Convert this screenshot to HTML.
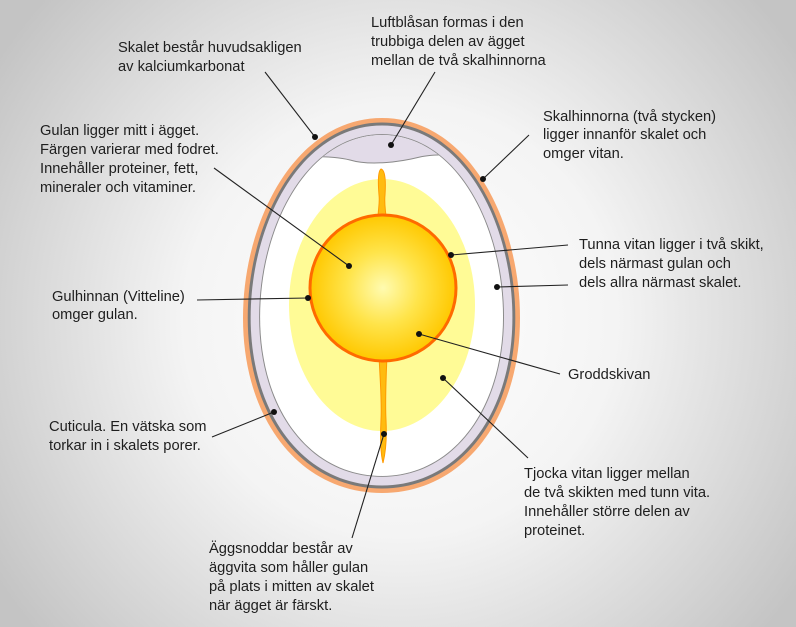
<!DOCTYPE html>
<html><head><meta charset="utf-8"><style>
html,body{margin:0;padding:0;width:796px;height:627px;overflow:hidden}
svg{display:block}
text{font-family:"Liberation Sans",sans-serif;font-size:14.7px;fill:#1e1e1e}
</style></head><body>
<svg width="796" height="627" viewBox="0 0 796 627" xmlns="http://www.w3.org/2000/svg">
<defs>
<radialGradient id="bg" cx="400" cy="320" r="480" gradientUnits="userSpaceOnUse">
<stop offset="0" stop-color="#ffffff"/><stop offset="0.45" stop-color="#f4f4f4"/><stop offset="1" stop-color="#c4c4c4"/>
</radialGradient>
<radialGradient id="yolk" cx="0.5" cy="0.5" r="0.5">
<stop offset="0" stop-color="#fffbb0"/><stop offset="0.5" stop-color="#ffe44a"/><stop offset="1" stop-color="#ffc800"/>
</radialGradient>
<path id="egg" d="M382,118 C468,118 520,220 520,318 C520,420 462,493 382,493 C300,493 243,420 243,318 C243,220 296,118 382,118 Z"/>
<clipPath id="inner"><use href="#egg" transform="translate(382 305.5) scale(0.877 0.909) translate(-382 -305.5)"/></clipPath>
</defs>
<rect width="796" height="627" fill="url(#bg)"/>
<use href="#egg" fill="#f7a870"/>
<use href="#egg" fill="#7a7a7a" transform="translate(382 305.5) scale(0.966 0.976) translate(-382 -305.5)"/>
<use href="#egg" fill="#e2dbe8" transform="translate(382 305.5) scale(0.945 0.96) translate(-382 -305.5)"/>
<use href="#egg" fill="#8a8a8a" transform="translate(382 305.5) scale(0.884 0.914) translate(-382 -305.5)"/>
<use href="#egg" fill="#ffffff" transform="translate(382 305.5) scale(0.877 0.909) translate(-382 -305.5)"/>
<g clip-path="url(#inner)">
<path d="M230,100 L540,100 L540,158 C480,157 440,152 420,157 C400,162 370,166 350,160 C330,155 300,156 230,158 Z" fill="#e2dbe8" stroke="#8a8a8a" stroke-width="1"/>
</g>
<ellipse cx="382" cy="305" rx="93" ry="126" fill="#fffb96"/>
<path d="M381,169 C385,170 386,180 385,195 C384,205 386,212 386,218 L378,218 C378,210 380,203 379,195 C378,183 378,171 381,169 Z" fill="#ffbb10" stroke="#ff9a00" stroke-width="1"/>
<path d="M379,355 L387,355 C386,380 385,400 386,420 C387,440 385,455 383,463 C381,455 380,440 381,420 C382,400 380,380 379,355 Z" fill="#ffbb10" stroke="#ff9a00" stroke-width="1"/>
<circle cx="383" cy="288" r="73" fill="url(#yolk)" stroke="#ff6a00" stroke-width="3"/>
<g stroke="#222" stroke-width="1.1">
<line x1="265" y1="72" x2="315" y2="137"/>
<line x1="435" y1="72" x2="391" y2="145"/>
<line x1="529" y1="135" x2="483" y2="179"/>
<line x1="214" y1="168" x2="349" y2="266"/>
<line x1="197" y1="300" x2="308" y2="298"/>
<line x1="212" y1="437" x2="274" y2="412"/>
<line x1="568" y1="245" x2="451" y2="255"/>
<line x1="568" y1="285" x2="497" y2="287"/>
<line x1="560" y1="374" x2="419" y2="334"/>
<line x1="528" y1="458" x2="443" y2="378"/>
<line x1="352" y1="538" x2="384" y2="434"/>
</g>
<g fill="#111">
<circle cx="315" cy="137" r="3"/><circle cx="391" cy="145" r="3"/><circle cx="483" cy="179" r="3"/>
<circle cx="349" cy="266" r="3"/><circle cx="308" cy="298" r="3"/><circle cx="274" cy="412" r="3"/>
<circle cx="451" cy="255" r="3"/><circle cx="497" cy="287" r="3"/><circle cx="419" cy="334" r="3"/>
<circle cx="443" cy="378" r="3"/><circle cx="384" cy="434" r="3"/>
</g>
<g dominant-baseline="central">
<text x="118" y="48">Skalet består huvudsakligen</text>
<text x="118" y="67">av kalciumkarbonat</text>
<text x="371" y="23">Luftblåsan formas i den</text>
<text x="371" y="42">trubbiga delen av ägget</text>
<text x="371" y="61">mellan de två skalhinnorna</text>
<text x="543" y="117">Skalhinnorna (två stycken)</text>
<text x="543" y="135">ligger innanför skalet och</text>
<text x="543" y="154">omger vitan.</text>
<text x="40" y="131">Gulan ligger mitt i ägget.</text>
<text x="40" y="150">Färgen varierar med fodret.</text>
<text x="40" y="169">Innehåller proteiner, fett,</text>
<text x="40" y="188">mineraler och vitaminer.</text>
<text x="52" y="297">Gulhinnan (Vitteline)</text>
<text x="52" y="315">omger gulan.</text>
<text x="49" y="427">Cuticula. En vätska som</text>
<text x="49" y="446">torkar in i skalets porer.</text>
<text x="579" y="245">Tunna vitan ligger i två skikt,</text>
<text x="579" y="264">dels närmast gulan och</text>
<text x="579" y="283">dels allra närmast skalet.</text>
<text x="568" y="375">Groddskivan</text>
<text x="524" y="474">Tjocka vitan ligger mellan</text>
<text x="524" y="493">de två skikten med tunn vita.</text>
<text x="524" y="512">Innehåller större delen av</text>
<text x="524" y="531">proteinet.</text>
<text x="209" y="549">Äggsnoddar består av</text>
<text x="209" y="568">äggvita som håller gulan</text>
<text x="209" y="587">på plats i mitten av skalet</text>
<text x="209" y="606">när ägget är färskt.</text>
</g>
</svg>
</body></html>
